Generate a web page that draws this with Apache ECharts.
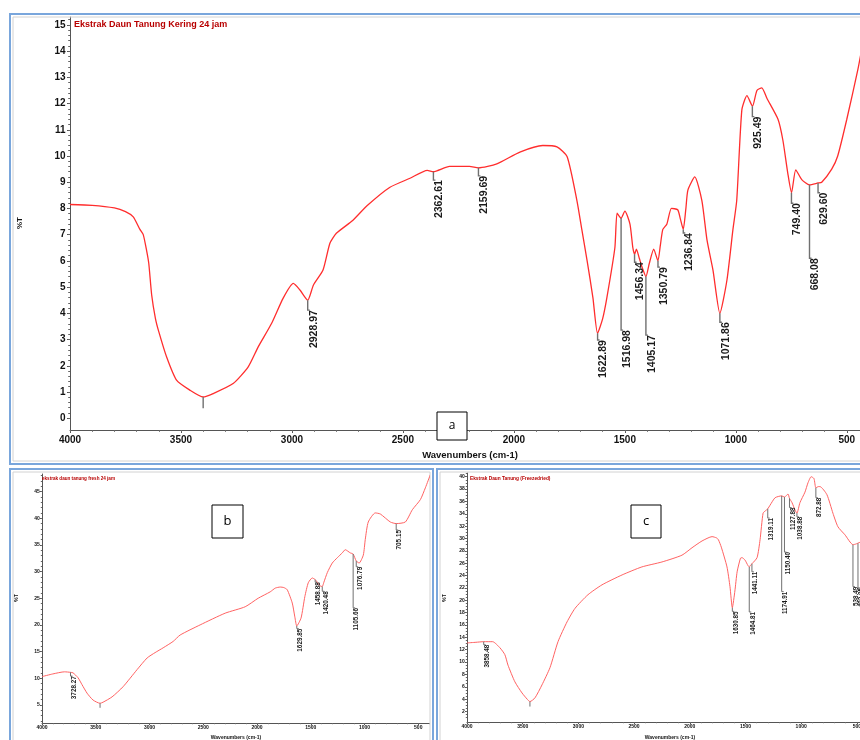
<!DOCTYPE html>
<html>
<head>
<meta charset="utf-8">
<script src="https://cdn.jsdelivr.net/npm/echarts@6/dist/echarts.min.js"></script>
<style>
  html, body { margin: 0; padding: 0; background: #fff; }
  #chart { width: 860px; height: 740px; }
</style>
</head>
<body>
<div id="chart"></div>
<script>
// ---- panel a : Ekstrak Daun Tanung Kering 24 jam ----
const aSpectrum = [
    [4000, 8.15], [3900, 8.12], [3800, 8.02], [3750, 7.88], [3715, 7.68], [3685, 7.2], [3670, 7.0],
    [3655, 6.4], [3645, 5.9], [3632, 4.7], [3615, 3.8], [3600, 3.3], [3565, 2.34], [3520, 1.45],
    [3460, 1.07], [3400, 0.81], [3355, 0.94], [3265, 1.32], [3197, 1.96], [3152, 2.72], [3092, 3.61],
    [3040, 4.57], [2994, 5.14], [2964, 4.89], [2929, 4.5], [2903, 5.08], [2860, 5.65], [2829, 6.67],
    [2800, 7.05], [2725, 7.55], [2662, 8.1], [2560, 8.8], [2468, 9.15], [2390, 9.45], [2363, 9.4],
    [2290, 9.6], [2200, 9.6], [2160, 9.55], [2077, 9.7], [1973, 10.15], [1870, 10.4], [1806, 10.35],
    [1760, 9.97], [1716, 8.3], [1694, 7.2], [1670, 6.0], [1644, 4.6], [1623, 3.24], [1600, 3.8],
    [1581, 4.6], [1545, 6.5], [1535, 7.82], [1517, 7.63], [1500, 7.9], [1477, 7.4], [1464, 6.5],
    [1456, 6.25], [1448, 6.45], [1435, 6.1], [1420, 5.7], [1405, 5.4], [1390, 5.9], [1370, 6.45],
    [1351, 6.0], [1340, 6.6], [1329, 7.2], [1311, 7.4], [1290, 8.0], [1262, 7.95], [1250, 7.6],
    [1237, 7.2], [1225, 8.0], [1216, 8.7], [1185, 9.2], [1153, 8.3], [1130, 6.8], [1103, 5.65],
    [1072, 4.0], [1040, 5.27], [1013, 7.2], [996, 8.3], [973, 11.75], [950, 12.3], [925, 11.9],
    [905, 12.5], [883, 12.6], [860, 12.2], [810, 11.4], [788, 10.6], [766, 9.35], [749, 8.6],
    [730, 9.47], [703, 9.1], [668, 8.9], [630, 8.97], [613, 9.0], [568, 9.5], [541, 10.0],
    [500, 11.4], [450, 13.3], [430, 14.2]
];
const aPeakWave = [3400, 2928.97, 2362.61, 2159.69, 1622.89, 1516.98, 1456.34, 1405.17, 1350.79, 1236.84, 1071.86, 925.49, 749.40, 668.08, 629.60];
const aPeakTop  = [0.81, 4.5, 9.4, 9.55, 3.24, 7.63, 6.25, 5.4, 6.0, 7.2, 4.0, 11.9, 8.6, 8.9, 8.97];
const aPeakEnd  = [0.38, 4.12, 9.08, 9.24, 2.98, 3.36, 5.95, 3.17, 5.76, 7.06, 3.66, 11.5, 8.2, 6.1, 8.6];
const aPeakText = ['', '2928.97', '2362.61', '2159.69', '1622.89', '1516.98', '1456.34', '1405.17', '1350.79', '1236.84', '1071.86', '925.49', '749.40', '668.08', '629.60'];
const aYLabels = [0, 1, 2, 3, 4, 5, 6, 7, 8, 9, 10, 11, 12, 13, 14, 15];

// ---- panel b : ekstrak daun tanung fresh 24 jam ----
const bSpectrum = [
    [4000, 10.3], [3900, 10.8], [3790, 11.2], [3735, 11.1], [3711, 11.0], [3665, 10.1], [3628, 8.8],
    [3581, 7.2], [3525, 5.9], [3460, 5.3], [3432, 5.5], [3348, 6.5], [3246, 8.4], [3116, 11.6],
    [3022, 13.8], [2948, 14.8], [2873, 15.7], [2780, 16.9], [2715, 18.1], [2529, 20.0], [2296, 22.2],
    [2110, 23.4], [1989, 25.0], [1877, 26.2], [1830, 26.9], [1784, 27.1], [1750, 27.0], [1719, 26.6],
    [1672, 24.1], [1648, 21.5], [1630, 19.8], [1590, 21.3], [1555, 25.3], [1523, 27.9], [1486, 28.8],
    [1459, 28.5], [1435, 27.9], [1412, 27.3], [1393, 27.2], [1378, 28.0], [1346, 29.8], [1300, 31.6],
    [1253, 32.6], [1207, 33.5], [1179, 34.1], [1132, 33.5], [1106, 33.3], [1077, 32.0], [1050, 31.6],
    [1011, 33.1], [993, 36.0], [965, 39.3], [900, 41.0], [853, 40.8], [760, 39.3], [705, 39.0],
    [620, 39.3], [555, 41.6], [480, 43.5], [434, 45.7], [387, 48.2]
];
const bPeakWave = [3460, 3735, 1629.85, 1458.88, 1393, 1105.66, 1076.79, 705.15];
const bPeakTop  = [5.3, 11.1, 19.8, 28.5, 27.2, 33.3, 32.0, 39.0];
const bPeakEnd  = [4.45, 10.4, 19.3, 28.0, 26.3, 23.2, 30.9, 37.8];
const bPeakText = ['', '3728.27', '1629.85', '1458.88', '1420.48', '1105.66', '1076.79', '705.15'];
const bYLabels = [5, 10, 15, 20, 25, 30, 35, 40, 45];

// ---- panel c : Ekstrak Daun Tanung (Freezedried) ----
const cSpectrum = [
    [4000, 13.1], [3920, 13.2], [3850, 13.3], [3770, 13.3], [3704, 12.3], [3660, 11.2], [3632, 9.5],
    [3570, 6.8], [3506, 5.0], [3460, 4.0], [3435, 3.6], [3390, 4.2], [3327, 6.3], [3255, 9.1],
    [3183, 13.3], [3102, 16.5], [3030, 18.7], [2914, 20.9], [2788, 22.5], [2608, 24.1], [2430, 25.4],
    [2250, 26.2], [2070, 27.3], [1980, 28.5], [1890, 29.6], [1800, 30.3], [1760, 30.1], [1743, 29.8],
    [1717, 28.6], [1666, 25.4], [1639, 22.2], [1618, 18.8], [1595, 21.5], [1575, 24.6], [1545, 26.8],
    [1531, 26.9], [1504, 26.5], [1477, 25.6], [1466, 25.4], [1454, 25.7], [1442, 25.9], [1396, 26.9],
    [1369, 29.8], [1342, 34.1], [1320, 34.5], [1300, 34.8], [1279, 35.4], [1234, 36.6], [1175, 36.9],
    [1150, 36.7], [1118, 37.2], [1105, 36.5], [1082, 35.8], [1055, 34.6], [1038, 34.1], [1011, 35.8],
    [966, 37.5], [939, 39.0], [910, 40.0], [885, 39.7], [868, 38.2], [845, 38.4], [831, 38.4],
    [769, 37.1], [715, 34.1], [670, 31.9], [607, 30.6], [535, 29.0], [510, 29.1], [472, 29.4], [430, 30.0]
];
const cPeakWave = [3435, 3850, 1618, 1466, 1442, 1300, 1175, 1150, 1105, 1038, 868, 535, 490];
const cPeakTop  = [3.6, 13.3, 18.8, 25.4, 25.9, 34.8, 36.9, 36.7, 36.5, 34.1, 38.2, 29.0, 29.2];
const cPeakEnd  = [2.8, 12.8, 18.2, 18.1, 24.6, 33.3, 21.4, 27.8, 35.0, 33.5, 36.6, 22.2, 22.0];
const cPeakText = ['', '3858.48', '1630.85', '1464.81', '1441.11', '1319.11', '1174.91', '1150.40', '1127.88', '1038.88', '872.88', '538.49', '492.05'];
const cYLabels = [2, 4, 6, 8, 10, 12, 14, 16, 18, 20, 22, 24, 26, 28, 30, 32, 34, 36, 38, 40];

const xLabels = [4000, 3500, 3000, 2500, 2000, 1500, 1000, 500];

const FONT = '"Liberation Sans", Arial, sans-serif';

function steps(from, to, step) {
    const out = [];
    for (let v = from; v <= to + 1e-9; v += step) out.push(Math.round(v * 100) / 100);
    return out;
}

const panels = [
    { grid: { left: 70, top: 17, width: 799, height: 413 }, yMin: -0.45, yMax: 15.3, yLabels: aYLabels, yMinor: steps(0, 15.2, 0.2),
      labelSize: 10, tickLen: 3, spectrum: aSpectrum, lineColor: '#ff2d2d', lineWidth: 1.3,
      peaks: [aPeakWave, aPeakTop, aPeakEnd, aPeakText], peakFont: 10.5, peakLine: 1.4 },
    { grid: { left: 42, top: 474, width: 387, height: 249 }, yMin: 1.6, yMax: 48.3, yLabels: bYLabels, yMinor: steps(2, 48, 1),
      labelSize: 5, tickLen: 2, spectrum: bSpectrum, lineColor: '#ff6262', lineWidth: 1,
      peaks: [bPeakWave, bPeakTop, bPeakEnd, bPeakText], peakFont: 6.4, peakLine: 1 },
    { grid: { left: 467, top: 473, width: 401, height: 249 }, yMin: 0.3, yMax: 40.6, yLabels: cYLabels, yMinor: steps(1, 40.5, 0.5),
      labelSize: 5, tickLen: 2, spectrum: cSpectrum, lineColor: '#ff6262', lineWidth: 1,
      peaks: [cPeakWave, cPeakTop, cPeakEnd, cPeakText], peakFont: 6.3, peakLine: 1 }
];

const xMinor = steps(400, 4000, 100);

function peakRender(texts, fontSize, lineWidth) {
    return function (params, api) {
        const p0 = api.coord([api.value(0), api.value(1)]);
        const p1 = api.coord([api.value(0), api.value(2)]);
        const label = texts[params.dataIndex];
        const children = [{
            type: 'polyline',
            shape: { points: label ? [p0, p1, [p1[0] + 2, p1[1]]] : [p0, p1] },
            style: { stroke: '#707070', lineWidth: lineWidth, fill: null }
        }];
        if (label) {
            children.push({
                type: 'text',
                x: p1[0] + 0.5,
                y: p1[1],
                rotation: Math.PI / 2,
                style: {
                    text: label,
                    align: 'right',
                    verticalAlign: 'top',
                    font: 'bold ' + fontSize + 'px ' + FONT,
                    fill: '#1a1a1a'
                }
            });
        }
        return { type: 'group', children: children };
    };
}

const grids = [], xAxes = [], yAxes = [], series = [];

panels.forEach((p, i) => {
    grids.push(Object.assign({ containLabel: false, outerBoundsMode: 'none' }, p.grid));
    xAxes.push({
        type: 'value', gridIndex: i, min: 400, max: 4000, inverse: true, position: 'bottom',
        axisLine: { onZero: false, lineStyle: { color: '#555', width: 1 } },
        axisTick: { customValues: xLabels, length: p.tickLen, lineStyle: { color: '#555' } },
        axisLabel: { customValues: xLabels, formatter: v => String(v), fontSize: p.labelSize, fontWeight: 'bold', fontFamily: FONT, color: '#111', margin: p.labelSize * 0.5 },
        splitLine: { show: false }
    });
    yAxes.push({
        type: 'value', gridIndex: i, min: p.yMin, max: p.yMax, position: 'left',
        axisLine: { show: true, onZero: false, lineStyle: { color: '#555', width: 1 } },
        axisTick: { show: true, customValues: p.yLabels, length: p.tickLen, lineStyle: { color: '#555' } },
        axisLabel: { customValues: p.yLabels, formatter: v => String(v), fontSize: p.labelSize, fontWeight: 'bold', fontFamily: FONT, color: '#111', margin: p.labelSize * 0.45 },
        splitLine: { show: false }
    });
    series.push({
        type: 'line', xAxisIndex: i, yAxisIndex: i,
        data: p.spectrum, showSymbol: false, smooth: 0.2,
        lineStyle: { color: p.lineColor, width: p.lineWidth },
        animation: false, z: 3
    });
    const pk = p.peaks;
    series.push({
        type: 'custom', xAxisIndex: i, yAxisIndex: i,
        data: pk[0].map((w, k) => [w, pk[1][k], pk[2][k]]),
        renderItem: peakRender(pk[3], p.peakFont, p.peakLine),
        animation: false, z: 4
    });
});

// overlay axes carrying only the small minor ticks
panels.forEach((p, i) => {
    xAxes.push({
        type: 'value', gridIndex: i, min: 400, max: 4000, inverse: true, position: 'bottom',
        axisLine: { show: false, onZero: false }, axisLabel: { show: false }, splitLine: { show: false },
        axisTick: { customValues: xMinor, length: p.tickLen * 0.6, lineStyle: { color: '#666' } }
    });
    yAxes.push({
        type: 'value', gridIndex: i, min: p.yMin, max: p.yMax, position: 'left',
        axisLine: { show: false, onZero: false }, axisLabel: { show: false }, splitLine: { show: false },
        axisTick: { show: true, customValues: p.yMinor, length: p.tickLen * 0.6, lineStyle: { color: '#666' } }
    });
});

function frame(x, y, w, h) {
    return [
        { type: 'rect', shape: { x: x, y: y, width: w, height: h }, style: { fill: null, stroke: '#79a6dc', lineWidth: 2 }, z: 1 },
        { type: 'rect', shape: { x: x + 3, y: y + 3, width: w - 6, height: h - 6 }, style: { fill: null, stroke: '#d2d2d2', lineWidth: 1 }, z: 1 }
    ];
}

function tag(x, y, w, h, letter, size) {
    return [
        { type: 'rect', shape: { x: x, y: y, width: w, height: h }, style: { fill: '#fff', stroke: '#000', lineWidth: 1 }, z: 20 },
        { type: 'text', x: x + w / 2, y: y + h / 2, style: { text: letter, font: size + 'px "Open Sans", sans-serif', fill: '#000', align: 'center', verticalAlign: 'middle' }, z: 21 }
    ];
}

function txt(x, y, text, font, fill, align, rotation) {
    return { type: 'text', x: x, y: y, rotation: rotation || 0, z: 10,
        style: { text: text, font: font, fill: fill, align: align || 'left', verticalAlign: 'middle' } };
}

const graphics = [].concat(
    frame(10, 14, 880, 450),
    frame(10, 469, 423, 290),
    frame(437, 469, 440, 290),
    tag(437, 412, 30, 28, 'a', 12),
    tag(212, 505, 31, 33, 'b', 13),
    tag(631, 505, 30, 33, 'c', 13),
    [
        txt(74, 25, 'Ekstrak Daun Tanung Kering 24 jam', 'bold 9px ' + FONT, '#b80000'),
        txt(42, 479, 'ekstrak daun tanung fresh 24 jam', 'bold 4.6px ' + FONT, '#b80000'),
        txt(470, 479, 'Ekstrak Daun Tanung (Freezedried)', 'bold 4.8px ' + FONT, '#b80000'),
        txt(20, 223, '%T', 'bold 8px ' + FONT, '#111', 'center', Math.PI / 2),
        txt(17, 598, '%T', 'bold 5px ' + FONT, '#111', 'center', Math.PI / 2),
        txt(445, 598, '%T', 'bold 5px ' + FONT, '#111', 'center', Math.PI / 2),
        txt(470, 455, 'Wavenumbers (cm-1)', 'bold 9.5px ' + FONT, '#111', 'center'),
        txt(236, 738, 'Wavenumbers (cm-1)', 'bold 5px ' + FONT, '#111', 'center'),
        txt(670, 738, 'Wavenumbers (cm-1)', 'bold 5px ' + FONT, '#111', 'center')
    ]
);

const chart = echarts.init(document.getElementById('chart'), null, { renderer: 'canvas' });
chart.setOption({
    backgroundColor: '#fff',
    animation: false,
    grid: grids,
    xAxis: xAxes,
    yAxis: yAxes,
    series: series,
    graphic: graphics
});
</script>
</body>
</html>
